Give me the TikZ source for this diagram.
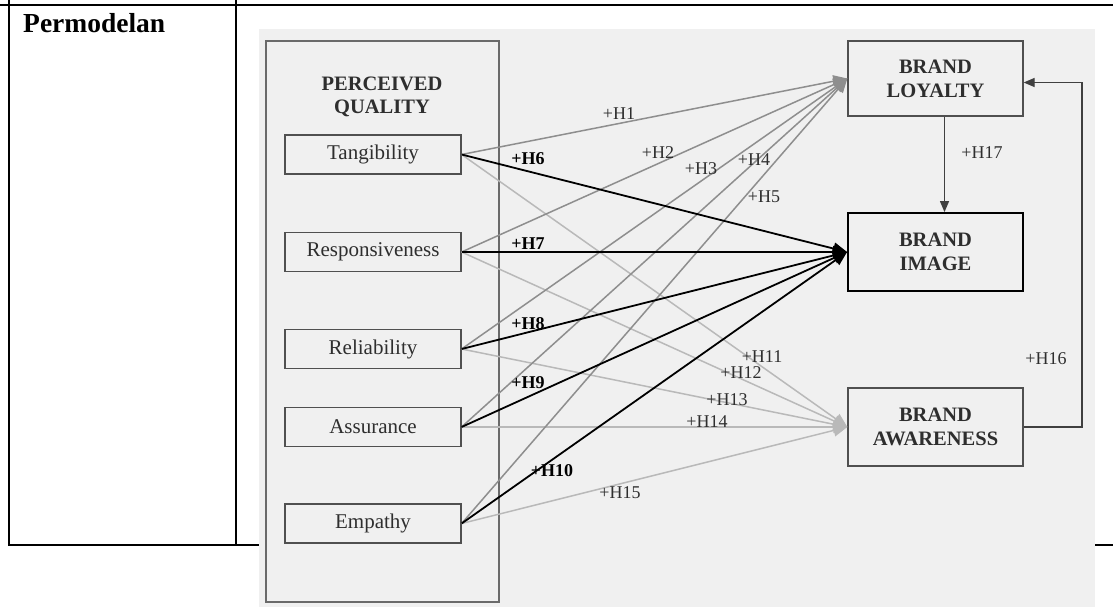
\documentclass[tikz,border=0pt]{standalone}
\usepackage{fontspec}
\setmainfont{Liberation Serif}
\usetikzlibrary{arrows.meta}

\definecolor{panelfill}{HTML}{F0F0F0}
\definecolor{ink}{HTML}{2E2E2E}
\definecolor{edge}{HTML}{505050}
\definecolor{outeredge}{HTML}{6A6A6A}
\definecolor{loyalline}{HTML}{8E8E8E}
\definecolor{awareline}{HTML}{B9B9B9}
\definecolor{linkdark}{HTML}{404040}

\tikzset{
  tableline/.style={line width=2.8pt, black},
  dimbox/.style={draw=edge, line width=1.2pt, rectangle, inner sep=0pt,
    minimum width=176pt, minimum height=39pt, text=ink,
    font=\fontsize{21}{24}\selectfont},
  construct/.style={draw=edge, line width=1.3pt, rectangle, inner sep=0pt,
    minimum width=175pt, minimum height=78pt, text=ink, align=center,
    font=\fontsize{20.5}{24}\selectfont\bfseries},
  hyp/.style={inner sep=0pt, text=ink, font=\fontsize{18}{20}\selectfont},
  hypbold/.style={inner sep=0pt, text=black, font=\fontsize{18}{20}\selectfont\bfseries},
  toloyal/.style={draw=loyalline, line width=1.5pt, -{Triangle[length=14pt,width=12pt]}},
  toimage/.style={draw=black, line width=1.8pt, -{Triangle[length=14pt,width=12pt]}},
  toaware/.style={draw=awareline, line width=1.5pt, -{Triangle[length=14pt,width=12pt]}},
  structlink/.style={draw=linkdark, line width=1.3pt, -{Triangle[length=11pt,width=9pt]}}
}

\begin{document}
\begin{tikzpicture}[x=1pt, y=-1pt]
\useasboundingbox (0,0) rectangle (1113,607);

% table rules
\draw[tableline] (0,5) -- (1113,5);
\draw[tableline] (9,0) -- (9,545) -- (1113,545);
\draw[tableline] (236,0) -- (236,545);
\node[anchor=base west, inner sep=0pt, font=\fontsize{27.5}{31}\selectfont\bfseries]
  (rowhead) at (23,33) {Permodelan};

% model panel
\fill[panelfill] (259,29) rectangle (1095,607);
\draw[draw=outeredge, line width=1.2pt] (266,41) rectangle (499,602);
\node[align=center, inner sep=0pt, text=ink, font=\fontsize{20.5}{23.5}\selectfont\bfseries]
  (pq) at (382,97) {PERCEIVED\\QUALITY};

% dimensions
\node[dimbox] (tan) at (373,154.5) {Tangibility};
\node[dimbox] (res) at (373,252) {Responsiveness};
\node[dimbox] (rel) at (373,349) {Reliability};
\node[dimbox] (ass) at (373,427) {Assurance};
\node[dimbox] (emp) at (373,523.5) {Empathy};

% outcome constructs
\node[construct, minimum height=75pt] (loyal) at (935.5,78.5) {BRAND\\LOYALTY};
\node[construct, draw=black, line width=1.8pt] (image) at (935.5,252) {BRAND\\IMAGE};
\node[construct] (aware) at (935.5,427) {BRAND\\AWARENESS};

% paths to brand awareness
\foreach \s in {tan,res,rel,ass,emp}
  \draw[toaware] (\s.east) -- (aware.west);
% paths to brand loyalty
\foreach \s in {tan,res,rel,ass,emp}
  \draw[toloyal] (\s.east) -- (loyal.west);
% paths to brand image
\foreach \s in {tan,res,rel,ass,emp}
  \draw[toimage] (\s.east) -- (image.west);

% links between constructs
\draw[structlink] ([xshift=9pt]loyal.south) -- ([xshift=9pt]image.north);
\coordinate (fbcorner) at (1082,427);
\draw[structlink] (aware.east) -- (fbcorner) |- ([yshift=-4pt]loyal.east);

% hypothesis labels
\node[hyp] (h1) at (619,114) {+H1};
\node[hyp] (h2) at (658,153) {+H2};
\node[hyp] (h3) at (701,169) {+H3};
\node[hyp] (h4) at (754,160) {+H4};
\node[hyp] (h5) at (764,197) {+H5};
\node[hypbold] (h6) at (528,159) {+H6};
\node[hypbold] (h7) at (528,244) {+H7};
\node[hypbold] (h8) at (528,324) {+H8};
\node[hypbold] (h9) at (528,383) {+H9};
\node[hypbold] (h10) at (552,471) {+H10};
\node[hyp] (h11) at (762,357) {+H11};
\node[hyp] (h12) at (741,373) {+H12};
\node[hyp] (h13) at (727,400) {+H13};
\node[hyp] (h14) at (707,422) {+H14};
\node[hyp] (h15) at (620,493) {+H15};
\node[hyp] (h16) at (1046,359) {+H16};
\node[hyp] (h17) at (982,153) {+H17};
\end{tikzpicture}
\end{document}
